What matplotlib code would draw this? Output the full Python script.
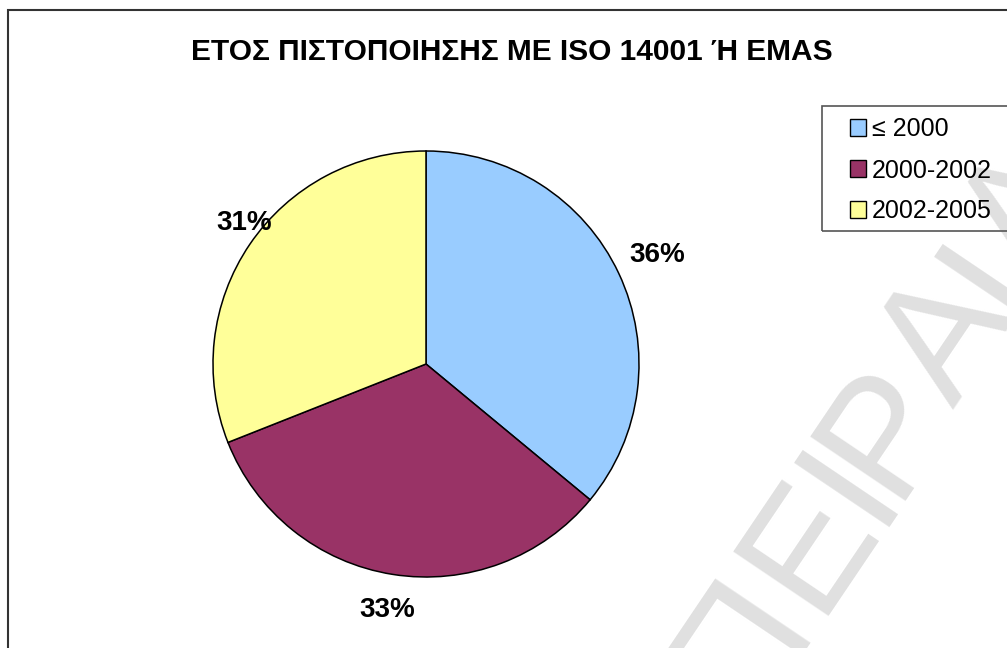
import matplotlib
matplotlib.use("Agg")
import matplotlib.pyplot as plt
from matplotlib.patches import Rectangle, Patch
import numpy as np

# ---- data ----
title = "ΕΤΟΣ ΠΙΣΤΟΠΟΙΗΣΗΣ ΜΕ ISO 14001 Ή EMAS"
categories = ["≤ 2000", "2000-2002", "2002-2005"]
values = [36, 33, 31]
colors = ["#99CCFF", "#993366", "#FFFF99"]
label_dist = [1.20, 1.17, 1.08]
label_angle_shift = [0, 0, -3.5]
watermark_letters = ["Π", "Ε", "Ι", "Ρ", "Α", "Ι", "Α"]
watermark_offsets = [-195, -75, 0, 64, 173, 249, 324]   # px along the baseline

W, H = 1007, 648
plt.rcParams['font.family'] = ['Liberation Sans', 'DejaVu Sans']
fig = plt.figure(figsize=(W / 100, H / 100), dpi=100)
fig.patch.set_facecolor("white")

def fx(px):
    return px / W

def fy(py):
    return 1 - py / H

# watermark (rotated letters along a 56 degree baseline)
ang = np.deg2rad(56)
bx, by = 888, 508
for ch, t in zip(watermark_letters, watermark_offsets):
    px = bx + t * np.cos(ang)
    py = by - t * np.sin(ang)
    fig.text(fx(px), fy(py), ch, rotation=56, rotation_mode='anchor',
             ha='center', va='baseline', fontsize=120, color='#e0e0e0',
             zorder=-5)

# outer chart frame
fig.add_artist(Rectangle((fx(8), fy(660)), fx(1010) - fx(8), fy(10) - fy(660),
                         transform=fig.transFigure, fill=False,
                         edgecolor='#333333', linewidth=1.5, zorder=1))

# pie axes
cx, cy, r = 426, 364, 213
ax = fig.add_axes([fx(cx - r), fy(cy + r), 2 * r / W, 2 * r / H])
ax.set_facecolor('none')
wedges, _ = ax.pie(values, colors=colors, startangle=90, counterclock=False,
                   radius=1.0,
                   wedgeprops=dict(edgecolor='black', linewidth=1.1))
ax.set_xlim(-1, 1)
ax.set_ylim(-1, 1)
ax.set_aspect('auto')
ax.axis('off')

total = sum(values)
start = 90.0
for v, d, sh in zip(values, label_dist, label_angle_shift):
    span = 360.0 * v / total
    mid = np.deg2rad(start - span / 2 + sh)
    ax.text(d * np.cos(mid), d * np.sin(mid), f"{round(100 * v / total)}%",
            ha='center', va='center', fontsize=20, fontweight='bold',
            clip_on=False)
    start -= span

# title
fig.text(fx(512), fy(52), title, ha='center', va='center', fontsize=21.5,
         fontweight='bold')

# legend
handles = [Patch(facecolor=c, edgecolor='black', linewidth=1.0) for c in colors]
leg = fig.legend(handles, categories, loc='upper left',
                 bbox_to_anchor=(fx(837), fy(105)), frameon=False,
                 fontsize=18, handlelength=0.65, handleheight=0.65,
                 handletextpad=0.25, labelspacing=0.68, borderpad=0.0)
fig.add_artist(Rectangle((fx(822), fy(231)), fx(1012) - fx(822), fy(106) - fy(231),
                         transform=fig.transFigure, fill=False,
                         edgecolor='#555555', linewidth=1.2, zorder=2))

fig.savefig("out.png", dpi=100, facecolor='white')
